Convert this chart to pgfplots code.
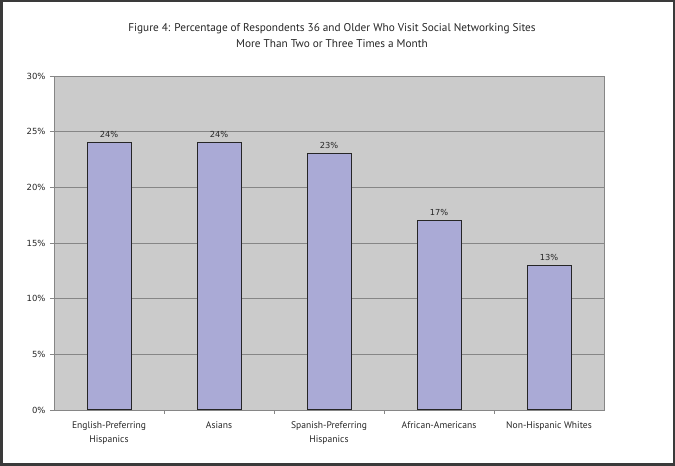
\documentclass[border=0pt]{standalone}
\usepackage{pgfplots}
\pgfplotsset{compat=1.18}
\usepackage{fontspec}
\setmainfont{DejaVu Sans}
\newfontfamily\gill{PT Sans}
\definecolor{plotbg}{HTML}{CBCBCB}
\definecolor{barfill}{HTML}{AAAAD6}
\definecolor{framec}{HTML}{3A3A3A}
\definecolor{gridc}{HTML}{868686}
\begin{document}
\begin{tikzpicture}[x=1bp,y=1bp]
  \useasboundingbox (0,0) rectangle (675,466);
  \fill[white] (0,0) rectangle (675,466);
  \draw[framec, line width=2.5bp] (1.25,1.25) rectangle (673.75,464.75);
  \node[align=center, font=\gill\fontsize{11.3}{16}\selectfont, text=black!85] at (332,430)
    {Figure 4: Percentage of Respondents 36 and Older Who Visit Social Networking Sites\\
     More Than Two or Three Times a Month};
  \begin{axis}[
      at={(54bp,56bp)}, anchor=south west,
      scale only axis,
      width=550bp, height=334bp,
      xmin=-0.5, xmax=4.5,
      ymin=0, ymax=30,
      ybar, bar width=44bp,
      axis background/.style={fill=plotbg},
      axis line style={gridc, line width=0.8bp},
      ymajorgrids, grid style={gridc, line width=0.8bp},
      ytick={0,5,...,30},
      yticklabel={\pgfmathprintnumber{\tick}\%},
      /pgf/number format/assume math mode=true,
      xtick={0,1,2,3,4},
      xticklabels={{English-Preferring\\Hispanics}, Asians,
                   {Spanish-Preferring\\Hispanics}, African-Americans,
                   Non-Hispanic Whites},
      xticklabel style={align=center, font=\gill\fontsize{9.6}{14}\selectfont,
                        text=black!85, yshift=-4bp},
      yticklabel style={font=\fontsize{8.5}{10}\selectfont, text=black!85, xshift=-1bp},
      major x tick style={draw=none},
      minor xtick={0.5,1.5,2.5,3.5},
      minor x tick style={gridc, line width=0.8bp},
      ytick style={gridc, line width=0.8bp},
      tick align=outside,
      major tick length=4bp, minor tick length=4bp,
      xtick pos=bottom, ytick pos=left,
      nodes near coords={\pgfmathprintnumber{\pgfplotspointmeta}\%},
      every node near coord/.append style={font=\fontsize{8.3}{10}\selectfont,
                                           text=black!85, yshift=1bp},
    ]
    \addplot[draw=black!85, line width=1bp, fill=barfill] coordinates {
      (0,24) (1,24) (2,23) (3,17) (4,13)
    };
  \end{axis}
\end{tikzpicture}
\end{document}
